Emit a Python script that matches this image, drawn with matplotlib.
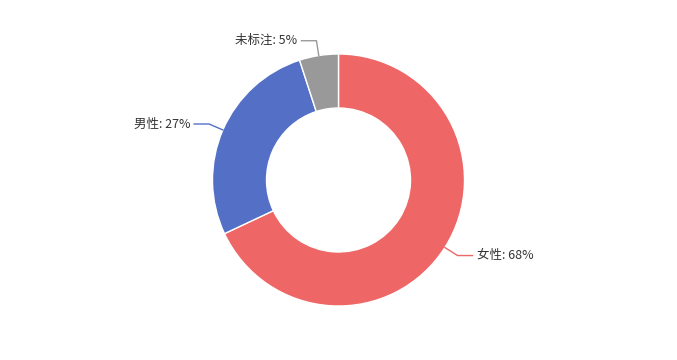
import numpy as np
import matplotlib
matplotlib.use("Agg")
import matplotlib.pyplot as plt

plt.rcParams['font.family'] = ['Noto Sans CJK SC', 'DejaVu Sans']

# data
categories = ["女性", "男性", "未标注"]
shares = [68, 27, 5]
colors = ["#EE6666", "#5470C6", "#999999"]

W, H = 677, 360
cx, cy = 338.5, 180.0
r_out, r_in = 126.0, 72.0

fig = plt.figure(figsize=(W / 100, H / 100), dpi=100)
ax = fig.add_axes([0, 0, 1, 1])

wedges, _ = ax.pie(shares, colors=colors, startangle=90, counterclock=False,
                   center=(cx, cy), radius=r_out,
                   wedgeprops=dict(width=r_out - r_in, edgecolor='white', linewidth=1))

# echarts-like leader lines
len1, len2, gap = 15, 15, 4
for w, name, val, col in zip(wedges, categories, shares, colors):
    mid = np.deg2rad((w.theta1 + w.theta2) / 2)
    x0, y0 = cx + r_out * np.cos(mid), cy + r_out * np.sin(mid)
    x1, y1 = cx + (r_out + len1) * np.cos(mid), cy + (r_out + len1) * np.sin(mid)
    side = 1 if np.cos(mid) >= 0 else -1
    x2 = x1 + side * len2
    ax.plot([x0, x1, x2], [y0, y1, y1], color=col, lw=1, solid_joinstyle='miter')
    ax.text(x2 + side * gap, y1, f"{name}: {val}%", fontsize=9, color='#333333',
            ha='left' if side > 0 else 'right', va='center')

# pie() resets the limits, so set them afterwards
ax.set_xlim(0, W)
ax.set_ylim(0, H)
ax.set_aspect('equal')
ax.axis('off')

fig.savefig("out.png", dpi=100)
